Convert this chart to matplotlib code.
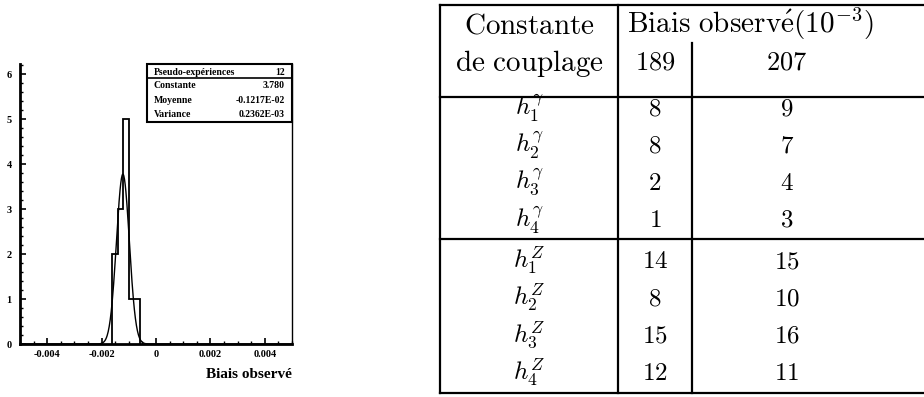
import matplotlib.pyplot as plt
import numpy as np
from matplotlib.patches import Rectangle

plt.rcParams["axes.unicode_minus"] = False
plt.rcParams["mathtext.fontset"] = "cm"

# histogram of pseudo-experiments
bin_edges = [-0.0016, -0.0014, -0.0012, -0.0010, -0.0008, -0.0006]
counts = [2, 3, 5, 1, 1]
fit_const = 3.780
fit_mean = -0.1217e-02
fit_sigma = 0.2362e-03

stat_names = ["Pseudo-expériences", "Constante", "Moyenne", "Variance"]
stat_values = ["12", "3.780", "-0.1217E-02", "0.2362E-03"]

xticks = [-0.004, -0.002, 0, 0.002, 0.004]
xtick_labels = ["-0.004", "-0.002", "0", "0.002", "0.004"]

# table
header1 = ["Constante", r"Biais observ\acute{e}(10^{-3})"]
header2 = ["de couplage", "189", "207"]
couplings = [r"h_1^\gamma", r"h_2^\gamma", r"h_3^\gamma", r"h_4^\gamma",
             r"h_1^Z", r"h_2^Z", r"h_3^Z", r"h_4^Z"]
bias_189 = [8, 8, 2, 1, 14, 8, 15, 12]
bias_207 = [9, 7, 4, 3, 15, 10, 16, 11]

W, H = 924, 397
fig = plt.figure(figsize=(W / 100, H / 100), dpi=100)

# ---- left panel: histogram ----
ax = fig.add_axes([20 / W, 1 - 344 / H, 272 / W, 280 / H])
ax.stairs(counts, bin_edges, fill=False, color="black", lw=1.3, baseline=0)
xs = np.linspace(-0.005, 0.005, 800)
ax.plot(xs, fit_const * np.exp(-0.5 * ((xs - fit_mean) / fit_sigma) ** 2),
        color="black", lw=1.0)
ax.set_xlim(-0.005, 0.005)
ax.set_ylim(0, 6.23)

ax.set_xticks(xticks)
ax.set_xticklabels(xtick_labels)
ax.set_xticks(np.arange(-0.005, 0.0051, 0.0005), minor=True)
ax.set_yticks(range(0, 7))
ax.set_yticks(np.arange(0, 6.21, 0.2), minor=True)
for lab in ax.get_xticklabels() + ax.get_yticklabels():
    lab.set_family("Liberation Serif")
    lab.set_weight("bold")
    lab.set_fontsize(7.5)
ax.tick_params(which="major", direction="in", length=4, width=1.2, pad=4)
ax.tick_params(which="minor", direction="in", length=2, width=1.0)
ax.tick_params(axis="y", pad=6)
ax.spines["top"].set_visible(False)
ax.spines["left"].set_linewidth(2)
ax.spines["bottom"].set_linewidth(2)
ax.spines["right"].set_linewidth(1)

ax.text(1.0, -0.085, "Biais observé", transform=ax.transAxes, ha="right",
        va="top", family="Liberation Serif", weight="bold", fontsize=11)

# stats box
bx0 = 0.466
ax.add_patch(Rectangle((bx0, 0.794), 1 - bx0, 0.206, transform=ax.transAxes,
                       fill=False, lw=1.5, clip_on=False, zorder=5))
sep_y = (344 - 77.7) / 280
ax.plot([bx0, 1], [sep_y, sep_y], transform=ax.transAxes, color="black",
        lw=1.2, clip_on=False)
row_y = [72.7, 86.0, 100.7, 114.3]
for name, val, y in zip(stat_names, stat_values, row_y):
    yy = (344 - y) / 280
    ax.text((154 - 20) / 272, yy, name, transform=ax.transAxes, ha="left",
            va="center", family="Liberation Serif", weight="bold", fontsize=7)
    ax.text((285 - 20) / 272, yy, val, transform=ax.transAxes, ha="right",
            va="center", family="Liberation Serif", weight="bold", fontsize=7)

# ---- right panel: table ----
tx = fig.add_axes([0, 0, 1, 1])
tx.set_xlim(0, W)
tx.set_ylim(H, 0)
tx.axis("off")

lw = 1.6
x_left, x_c1, x_c2, x_right = 440, 618, 692, 882
y_top, y_head, y_split, y_bot = 5, 97, 239, 393
for y in [y_top, y_head, y_split, y_bot]:
    tx.plot([x_left, W], [y, y], color="black", lw=lw)
tx.plot([x_left, x_left], [y_top, y_bot], color="black", lw=lw)
tx.plot([x_c1, x_c1], [y_top, y_bot], color="black", lw=lw)
tx.plot([x_c2, x_c2], [43, y_bot], color="black", lw=lw)

fs_head = 21
fs = 18
c0 = (x_left + x_c1) / 2
c1 = (x_c1 + x_c2) / 2
c2 = (x_c2 + x_right) / 2


def mtext(x, y, s, size=fs):
    tx.text(x, y, "$\\mathrm{" + s.replace(" ", "\\ ") + "}$", ha="center",
            va="baseline", fontsize=size)


mtext(c0, 33, header1[0], fs_head)
mtext((x_c1 + x_right) / 2, 33, header1[1], fs_head)
mtext(c0, 71, header2[0], fs_head)
mtext(c1, 70, header2[1], 19)
mtext(c2, 70, header2[2], 19)

for i, (h, a, b) in enumerate(zip(couplings, bias_189, bias_207)):
    y = 115 + 37.3 * i + (4 if i >= 4 else 0)
    tx.text(c0, y, "$" + h + "$", ha="center", va="baseline", fontsize=fs)
    mtext(c1, y, str(a))
    mtext(c2, y, str(b))

fig.savefig("out.png", dpi=100)
